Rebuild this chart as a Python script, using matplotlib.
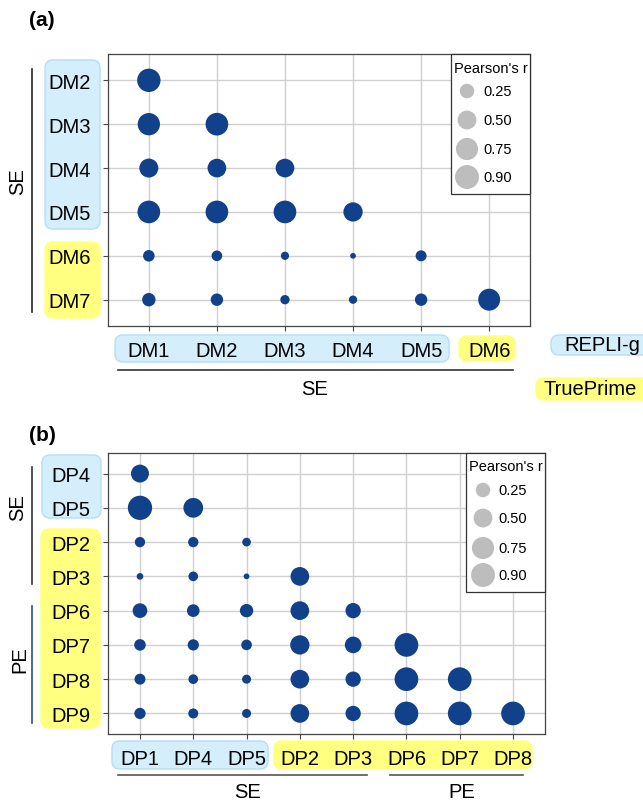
import numpy as np
import matplotlib
matplotlib.use("Agg")
import matplotlib.pyplot as plt
from matplotlib.patches import FancyBboxPatch, Rectangle

plt.rcParams['font.family'] = ['Liberation Sans', 'DejaVu Sans']

# ---------------- data ----------------
rows_a = ["DM2", "DM3", "DM4", "DM5", "DM6", "DM7"]
cols_a = ["DM1", "DM2", "DM3", "DM4", "DM5", "DM6"]
r_a = [
    [0.85],
    [0.76, 0.79],
    [0.51, 0.49, 0.49],
    [0.79, 0.79, 0.79, 0.53],
    [0.13, 0.10, 0.04, 0.007, 0.11],
    [0.20, 0.16, 0.064, 0.042, 0.16, 0.73],
]

rows_b = ["DP4", "DP5", "DP2", "DP3", "DP6", "DP7", "DP8", "DP9"]
cols_b = ["DP1", "DP4", "DP5", "DP2", "DP3", "DP6", "DP7", "DP8"]
r_b = [
    [0.44],
    [0.93, 0.56],
    [0.09, 0.09, 0.05],
    [0.016, 0.073, 0.007, 0.49],
    [0.26, 0.17, 0.20, 0.49, 0.29],
    [0.13, 0.12, 0.10, 0.53, 0.36, 0.88],
    [0.11, 0.073, 0.057, 0.49, 0.29, 0.88, 0.88],
    [0.12, 0.082, 0.057, 0.49, 0.29, 0.88, 0.88, 0.88],
]

legend_vals = [0.25, 0.50, 0.75, 0.90]
legend_labels = ["0.25", "0.50", "0.75", "0.90"]
legend_title = "Pearson's r"

# ---------------- style ----------------
W, H = 643, 803
DOT = '#11418b'
BLUE_F, BLUE_E = '#d5eefc', '#b4ddf6'
YEL_F, YEL_E = '#ffff80', '#ffff80'
TICK_FS = 14.5


def msize(r):
    d_px = 4 + 21 * np.sqrt(np.asarray(r, dtype=float))
    return (d_px * 0.72) ** 2


fig = plt.figure(figsize=(W / 100, H / 100), dpi=100)
ov = fig.add_axes([0, 0, 1, 1], zorder=-1)
ov.set_xlim(0, W)
ov.set_ylim(H, 0)
ov.axis('off')


def box(x0, x1, y0, y1, fc, ec, r=8):
    ov.add_patch(FancyBboxPatch((x0, y0), x1 - x0, y1 - y0,
                                boxstyle=f"round,pad=0,rounding_size={r}",
                                fc=fc, ec=ec, lw=1.0))


def ax_rect(l, r, t, b):
    return [l / W, 1 - b / H, (r - l) / W, (b - t) / H]


def panel(rect, rows, cols, vals, leg):
    ax = fig.add_axes(ax_rect(*rect))
    n, m = len(rows), len(cols)
    xs, ys, ss = [], [], []
    for i, row in enumerate(vals):
        for j, v in enumerate(row):
            xs.append(j + 1)
            ys.append(i + 1)
            ss.append(v)
    ax.scatter(xs, ys, s=msize(ss), c=DOT, linewidths=0, zorder=3)
    ax.set_xlim(0.4, m + 0.6)
    ax.set_ylim(n + 0.6, 0.4)
    ax.set_xticks(range(1, m + 1))
    ax.set_xticklabels(cols, fontsize=TICK_FS)
    ax.set_yticks(range(1, n + 1))
    ax.set_yticklabels(rows, fontsize=TICK_FS)
    ax.grid(True, color='#d0d0d0', lw=1.0, zorder=0)
    ax.set_axisbelow(True)
    for sp in ax.spines.values():
        sp.set_color('#444444')
        sp.set_linewidth(0.9)
    ax.tick_params(axis='both', length=3.5, width=0.8, color='#444444')
    ax.tick_params(axis='y', pad=9)
    ax.tick_params(axis='x', pad=7.5)
    # legend drawn in pixel coordinates
    lx0, lx1, ly0, ly1, cx, tx, ty, cys = leg
    ax.add_patch(Rectangle((lx0, ly0), lx1 - lx0, ly1 - ly0, transform=ov.transData,
                           fc='white', ec='#333333', lw=0.9, zorder=5, clip_on=False))
    ax.text((lx0 + lx1) / 2, ty, legend_title, transform=ov.transData, fontsize=10.5,
            ha='center', va='center', zorder=6)
    ax.scatter([cx] * len(legend_vals), cys, s=msize(legend_vals), c='#bdbdbd',
               linewidths=0, transform=ov.transData, zorder=6, clip_on=False)
    for cy, lab in zip(cys, legend_labels):
        ax.text(tx, cy, lab, transform=ov.transData, fontsize=10.5,
                ha='left', va='center', zorder=6)
    return ax


# ---------------- panel (a) ----------------
box(45, 100, 61, 230, BLUE_F, BLUE_E)
box(45, 100, 243, 319, YEL_F, YEL_E)
box(115, 449, 336, 363, BLUE_F, BLUE_E)
box(459, 515, 337, 362, YEL_F, YEL_E)
box(551, 660, 336, 356, BLUE_F, BLUE_E)
box(536, 660, 379, 401, YEL_F, YEL_E)
ov.text(564, 346, "REPLI-g", fontsize=TICK_FS, ha='left', va='center')
ov.text(543, 390, "TruePrime", fontsize=TICK_FS, ha='left', va='center')

panel((108, 530, 55, 327), rows_a, cols_a, r_a,
      (451, 530, 55, 195, 467, 483, 69, [92, 121, 150, 178]))

ov.plot([32, 32], [70, 313], color='#222222', lw=1.2)
ov.text(18, 182, "SE", fontsize=TICK_FS, rotation=90, ha='center', va='center')
ov.plot([118, 513], [371, 371], color='#333333', lw=1.2)
ov.text(315, 390, "SE", fontsize=TICK_FS, ha='center', va='center')
ov.text(29, 21, "(a)", fontsize=15, fontweight='bold', ha='left', va='center')

# ---------------- panel (b) ----------------
box(42, 101, 456, 519, BLUE_F, BLUE_E)
box(41, 100, 530, 729, YEL_F, YEL_E)
box(112, 268, 742, 770, BLUE_F, BLUE_E)
box(274, 532, 742, 770, YEL_F, YEL_E)

panel((108, 545, 454, 735), rows_b, cols_b, r_b,
      (466, 545, 454, 593, 483, 498, 467, [491, 519, 549, 576]))

ov.plot([32, 32], [468, 585], color='#333333', lw=1.2)
ov.text(18, 508, "SE", fontsize=TICK_FS, rotation=90, ha='center', va='center')
ov.plot([32, 32], [607, 724], color='#2d4f86', lw=1.2)
ov.text(20, 660, "PE", fontsize=TICK_FS, rotation=90, ha='center', va='center')
ov.plot([118, 367], [776, 776], color='#555555', lw=1.2)
ov.text(248, 793, "SE", fontsize=TICK_FS, ha='center', va='center')
ov.plot([390, 523], [776, 776], color='#555555', lw=1.2)
ov.text(462, 793, "PE", fontsize=TICK_FS, ha='center', va='center')
ov.text(29, 436, "(b)", fontsize=15, fontweight='bold', ha='left', va='center')

fig.savefig("out.png", dpi=100)
